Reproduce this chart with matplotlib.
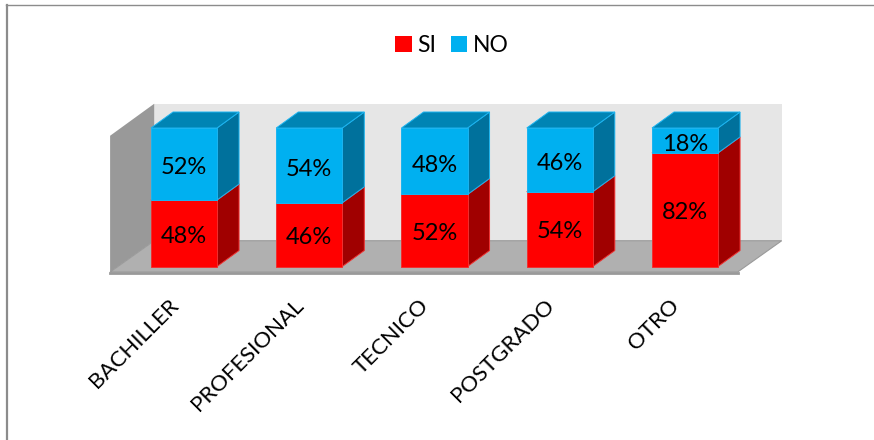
import sys

import numpy as np
from matplotlib import pyplot as plt
from matplotlib.patches import Patch, Polygon

plt.rcParams['font.family'] = ['Lato', 'DejaVu Sans']

categories = ['BACHILLER', 'PROFESIONAL', 'TECNICO', 'POSTGRADO', 'OTRO']
si_values = [48, 46, 52, 54, 82]
no_values = [52, 54, 48, 46, 18]

FIG_W, FIG_H = 874, 440

# how the chart sits in the figure, in pixels
X0_PX, X_STEP_PX = 184.0, 125.25
Y0_PX, Y_STEP_PX = 266.5, 1.385

BAR_W = 0.527
DX = 0.176
DY = 11.55

WALL_TOP = 117.5
FLOOR_FRONT = -4.0
LEFT = -0.59
RIGHT = 4.42

# front, side, top, edge
C_SI = ('#FF0000', '#A00000', '#C00000', '#F03030')
C_NO = ('#00B0F0', '#00719C', '#0084B4', '#1CB4F0')


#######################################################

def add_poly(ax, pts, color, edge=None, lw=0.0, z=1):
    ax.add_patch(Polygon(pts, closed=True, facecolor=color,
                         edgecolor=edge if edge else color,
                         linewidth=lw, zorder=z))


def draw_room(ax):
    back_y = FLOOR_FRONT + DY * 2 - 0.5
    add_poly(ax, [(LEFT + DX * 2, back_y), (RIGHT + DX * 2, back_y),
                  (RIGHT + DX * 2, WALL_TOP), (LEFT + DX * 2, WALL_TOP)], '#E6E6E6')
    add_poly(ax, [(LEFT, FLOOR_FRONT), (LEFT + DX * 2, back_y),
                  (LEFT + DX * 2, WALL_TOP), (LEFT, WALL_TOP - DY * 2)], '#999999')
    add_poly(ax, [(LEFT, FLOOR_FRONT), (LEFT + DX * 2, back_y),
                  (RIGHT + DX * 2, back_y), (RIGHT, FLOOR_FRONT)], '#B0B0B0', '#9A9A9A', 0.8)
    ax.plot([LEFT, RIGHT], [FLOOR_FRONT - 1, FLOOR_FRONT - 1], color='#999999', lw=2.0, zorder=2)


def draw_block(ax, x, y0, y1, colors, z):
    front, side, top, edge = colors
    xl, xr = x - BAR_W / 2, x + BAR_W / 2
    add_poly(ax, [(xr, y0), (xr + DX, y0 + DY), (xr + DX, y1 + DY), (xr, y1)], side, edge, 0.7, z)
    add_poly(ax, [(xl, y1), (xr, y1), (xr + DX, y1 + DY), (xl + DX, y1 + DY)], top, edge, 0.7, z)
    add_poly(ax, [(xl, y0), (xr, y0), (xr, y1), (xl, y1)], front, edge, 0.7, z + 1)


#######################################################

def main():

    fig = plt.figure(figsize=(FIG_W / 100, FIG_H / 100), dpi=100)
    ax = fig.add_axes([0, 0, 1, 1])

    ax.set_xlim(-X0_PX / X_STEP_PX, (FIG_W - X0_PX) / X_STEP_PX)
    ax.set_ylim((Y0_PX - FIG_H) / Y_STEP_PX, Y0_PX / Y_STEP_PX)
    ax.axis('off')

    # outer frame, only top and left show
    fig.add_artist(plt.Line2D([7.0 / FIG_W, 7.0 / FIG_W], [0, 1 - 5.5 / FIG_H],
                              color='#8C8C8C', lw=1.6))
    fig.add_artist(plt.Line2D([6.0 / FIG_W, 1], [1 - 5.5 / FIG_H, 1 - 5.5 / FIG_H],
                              color='#8C8C8C', lw=1.0))

    draw_room(ax)

    for i, name in enumerate(categories):
        si = si_values[i]
        no = no_values[i]

        draw_block(ax, i, 0, si, C_SI, 3 + i * 3)
        draw_block(ax, i, si, si + no, C_NO, 4 + i * 3)

        ax.text(i, si / 2 - 2.0, '{}%'.format(si), ha='center', va='center',
                fontsize=17, color='k', zorder=30)
        ax.text(i, si + no / 2 - 2.8, '{}%'.format(no), ha='center', va='center',
                fontsize=17, color='k', zorder=30)

        ax.text(i - 0.125, -20.7, name, ha='right', va='top', rotation=45,
                rotation_mode='anchor', fontsize=16, color='k', zorder=30)

    handles = [Patch(facecolor=C_SI[0], label='SI'), Patch(facecolor=C_NO[0], label='NO')]
    ax.legend(handles=handles, loc='center', bbox_to_anchor=(452.0 / FIG_W, 1 - 45.5 / FIG_H),
              ncol=2, frameon=False, fontsize=16.5, handlelength=0.72, handleheight=0.72,
              handletextpad=0.24, columnspacing=0.62)

    fig.savefig('out.png', dpi=100)


#######################################################

if __name__ == '__main__':
    sys.exit(main())
